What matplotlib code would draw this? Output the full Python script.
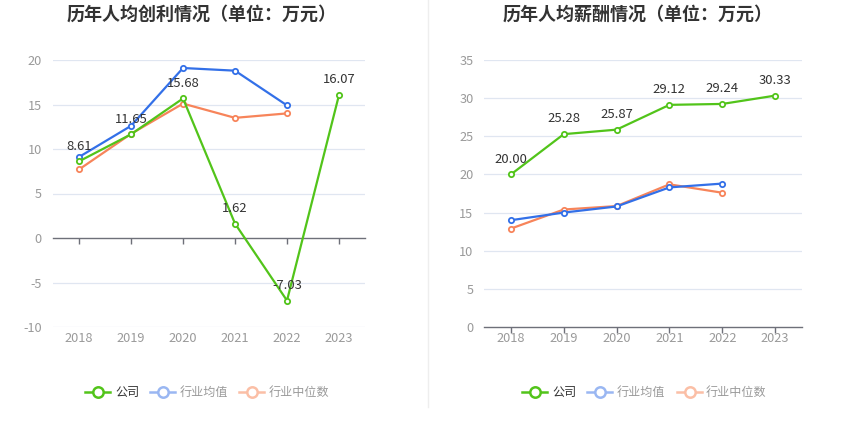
import matplotlib
matplotlib.use("Agg")
import matplotlib.pyplot as plt
from matplotlib.lines import Line2D
import matplotlib.transforms as mtransforms

plt.rcParams['font.family'] = ['Noto Sans CJK SC', 'DejaVu Sans']

years = ["2018", "2019", "2020", "2021", "2022", "2023"]

# 人均创利
profit_company = [8.61, 11.65, 15.68, 1.62, -7.03, 16.07]
profit_mean = [9.1, 12.6, 19.1, 18.8, 14.9]
profit_median = [7.7, 11.7, 15.1, 13.5, 14.0]

# 人均薪酬
salary_company = [20.00, 25.28, 25.87, 29.12, 29.24, 30.33]
salary_mean = [14.0, 15.0, 15.8, 18.3, 18.8]
salary_median = [12.9, 15.4, 15.85, 18.7, 17.6]

titles = ["历年人均创利情况（单位：万元）", "历年人均薪酬情况（单位：万元）"]
legend_labels = ["公司", "行业均值", "行业中位数"]

GREEN = "#52c41a"
BLUE = "#3370e8"
ORANGE = "#f7845a"
GREEN_L = "#52c41a"
BLUE_L = "#9ab7f2"
ORANGE_L = "#fbbfa6"
GRID = "#e0e6f1"
AXIS = "#6e7079"
TICKC = "#9a9a9a"
TXT = "#333333"

W, H = 850, 437
fig = plt.figure(figsize=(W / 100, H / 100), dpi=100)
fig.patch.set_facecolor("white")


def px_axes(x0, x1, y0, y1):
    return fig.add_axes([x0 / W, 1 - y1 / H, (x1 - x0) / W, (y1 - y0) / H])


def draw_panel(ax, company, mean, median, ylim, yticks, title, title_x, legend_x):
    n = len(years)
    xs = list(range(n))
    ax.set_xlim(-0.5, n - 0.5)
    ax.set_ylim(*ylim)
    for s in ax.spines.values():
        s.set_visible(False)
    ax.set_yticks(yticks)
    ax.set_yticklabels([str(v) for v in yticks], color=TICKC, fontsize=9.2)
    ax.tick_params(axis="y", length=0, pad=8)
    for v in yticks:
        if v != 0:
            ax.axhline(v, color=GRID, lw=0.9, zorder=0)
    ax.spines["bottom"].set_visible(True)
    ax.spines["bottom"].set_position(("data", 0))
    ax.spines["bottom"].set_color(AXIS)
    ax.spines["bottom"].set_linewidth(1.0)
    ax.set_xticks(xs)
    ax.set_xticklabels([])
    ax.tick_params(axis="x", length=4, color=AXIS, width=1.0, direction="out")
    trans = mtransforms.blended_transform_factory(ax.transData, ax.transAxes)
    off = mtransforms.ScaledTranslation(0, -5 / 100, fig.dpi_scale_trans)
    for i, y in enumerate(years):
        ax.text(i, 0, y, transform=trans + off, ha="center", va="top", color=TICKC,
                fontsize=9.2)

    mk = dict(marker="o", markersize=3.8, markerfacecolor="white", markeredgewidth=1.3)
    ax.plot(xs[:len(median)], median, color=ORANGE, lw=1.6, zorder=3, **mk)
    ax.plot(xs[:len(mean)], mean, color=BLUE, lw=1.6, zorder=4, **mk)
    ax.plot(xs, company, color=GREEN, lw=1.6, zorder=5, **mk)
    for x, v in zip(xs, company):
        ax.annotate(f"{v:.2f}", (x, v), xytext=(0, 11), textcoords="offset points",
                    ha="center", va="center", fontsize=9.4, color=TXT, zorder=6)

    fig.text(title_x / W, 1 - 14 / H, title, ha="center", va="center",
             fontsize=13, fontweight="bold", color=TXT)

    ly = 1 - 392 / H
    cols = [(GREEN_L, TXT), (BLUE_L, TICKC), (ORANGE_L, TICKC)]
    for (ix, tx), lab, (lc, tc) in zip(legend_x, legend_labels, cols):
        fig.add_artist(Line2D([ix / W, (ix + 25) / W], [ly, ly], color=lc, lw=1.8,
                              transform=fig.transFigure))
        fig.add_artist(Line2D([(ix + 12.5) / W], [ly], marker="o", markersize=7.5,
                              markerfacecolor="white", markeredgecolor=lc,
                              markeredgewidth=1.8, transform=fig.transFigure))
        fig.text(tx / W, ly, lab, ha="left", va="center", fontsize=8.7, color=tc)


ax1 = px_axes(53, 365, 60, 327)
draw_panel(ax1, profit_company, profit_mean, profit_median, (-10, 20),
           [-10, -5, 0, 5, 10, 15, 20], titles[0], 202,
           [(85, 115), (150, 180), (239, 269)])

ax2 = px_axes(484.5, 801.5, 60, 327)
draw_panel(ax2, salary_company, salary_mean, salary_median, (0, 35),
           [0, 5, 10, 15, 20, 25, 30, 35], titles[1], 638,
           [(522, 552), (587, 617), (677, 706)])

fig.add_artist(Line2D([427.5 / W, 427.5 / W], [1, 1 - 407 / H], color="#eeeeee",
                      lw=1.0, transform=fig.transFigure))

fig.savefig("out.png", dpi=100, facecolor="white")
